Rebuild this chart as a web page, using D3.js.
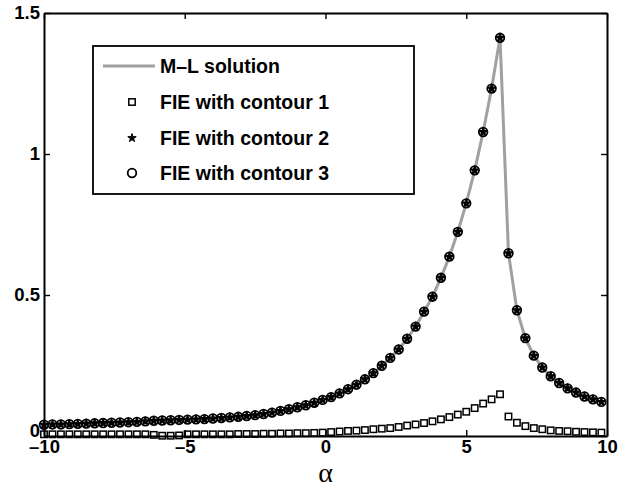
<!DOCTYPE html>
<html>
<head>
<meta charset="utf-8">
<script src="https://cdn.jsdelivr.net/npm/d3@7"></script>
<style>
  body { margin: 0; background: #fff; }
  text { font-family: "Liberation Sans", Arial, Helvetica, sans-serif; }
</style>
</head>
<body>
<script>
// alpha grid (step 0.3)
const alpha = [-10, -9.7, -9.4, -9.1, -8.8, -8.5, -8.2, -7.9, -7.6, -7.3, -7, -6.7, -6.4,
  -6.1, -5.8, -5.5, -5.2, -4.9, -4.6, -4.3, -4, -3.7, -3.4, -3.1, -2.8, -2.5, -2.2,
  -1.9, -1.6, -1.3, -1, -0.7, -0.4, -0.1, 0.2, 0.5, 0.8, 1.1, 1.4, 1.7, 2, 2.3, 2.6,
  2.9, 3.2, 3.5, 3.8, 4.1, 4.4, 4.7, 5, 5.3, 5.6, 5.9, 6.2, 6.5, 6.8, 7.1, 7.4, 7.7,
  8, 8.3, 8.6, 8.9, 9.2, 9.5, 9.8];

const mlSolution = [0.040, 0.041, 0.041, 0.042, 0.043, 0.044, 0.045, 0.046, 0.047, 0.048, 0.049, 0.050, 0.052,
  0.054, 0.055, 0.056, 0.057, 0.058, 0.059, 0.060, 0.062, 0.064, 0.066, 0.068, 0.071, 0.074, 0.078,
  0.083, 0.089, 0.095, 0.102, 0.109, 0.118, 0.128, 0.138, 0.151, 0.166, 0.182, 0.201, 0.223, 0.249, 0.277, 0.307,
  0.345, 0.388, 0.441, 0.494, 0.561, 0.636, 0.724, 0.825, 0.942, 1.078, 1.232, 1.412, 0.648, 0.446, 0.347, 0.285, 0.243,
  0.212, 0.188, 0.169, 0.154, 0.140, 0.130, 0.121];

const contour1 = [0.006, 0.006, 0.006, 0.006, 0.006, 0.006, 0.006, 0.006, 0.006, 0.006, 0.006, 0.006, 0.006,
  0.004, 0.001, 0.001, 0.002, 0.006, 0.006, 0.006, 0.006, 0.006, 0.006, 0.007, 0.007, 0.007, 0.008,
  0.008, 0.009, 0.009, 0.010, 0.010, 0.011, 0.012, 0.014, 0.016, 0.018, 0.019, 0.021, 0.024, 0.026, 0.028, 0.032,
  0.037, 0.041, 0.046, 0.052, 0.059, 0.067, 0.076, 0.086, 0.099, 0.115, 0.130, 0.148, 0.069, 0.047, 0.035, 0.028, 0.024,
  0.020, 0.018, 0.017, 0.015, 0.014, 0.013, 0.012];

// contours 2 and 3 sit on the M-L solution
const contour2 = mlSolution;
const contour3 = mlSolution;

const legendLabels = ["M\u2013L solution", "FIE with contour 1", "FIE with contour 2", "FIE with contour 3"];
const xTicks = [-10, -5, 0, 5, 10];
const yTicks = [0, 0.5, 1, 1.5];

let width = 636,
    height = 490;

let margin = { top: 13, right: 29, bottom: 54, left: 44 };
let w = width - margin.left - margin.right,
    h = height - margin.top - margin.bottom;

let svg = d3.select("body").append("svg")
    .attr("width", width)
    .attr("height", height)
    .append("g")
    .attr("transform", "translate(" + margin.left + "," + margin.top + ")");

let x = d3.scaleLinear().domain([-10, 10]).range([0, w]);
let y = d3.scaleLinear().domain([0, 1.5]).range([h, 0]);

let fmt = d => (d < 0 ? "\u2013" + Math.abs(d) : "" + d);

// axes, ticks pointing inward
let styleAxis = g => {
  g.select(".domain").attr("stroke", "#000").attr("stroke-width", 2);
  g.selectAll(".tick line").attr("stroke", "#000").attr("stroke-width", 1.4);
  g.selectAll("text").attr("fill", "#000")
    .style("font-size", "18.5px").style("font-weight", "bold")
    .style("font-family", "'Liberation Sans', Arial, sans-serif");
};

svg.append("g")
    .attr("transform", "translate(0," + h + ")")
    .call(d3.axisBottom(x).tickValues(xTicks).tickFormat(fmt).tickSizeInner(-6).tickSizeOuter(0).tickPadding(4))
    .call(styleAxis);

svg.append("g")
    .call(d3.axisTop(x).tickValues(xTicks).tickFormat("").tickSizeInner(-6).tickSizeOuter(0))
    .call(styleAxis);

svg.append("g")
    .call(d3.axisLeft(y).tickValues(yTicks).tickFormat(d => d).tickSizeInner(-6).tickSizeOuter(0).tickPadding(4))
    .call(styleAxis)
    .selectAll(".tick text")
    .attr("dy", d => (d === 0 ? "0.05em" : "0.32em"));

svg.append("g")
    .attr("transform", "translate(" + w + ",0)")
    .call(d3.axisRight(y).tickValues(yTicks).tickFormat("").tickSizeInner(-6).tickSizeOuter(0))
    .call(styleAxis);

// M-L solution line
let pts = alpha.map((a, i) => [a, mlSolution[i]]);
svg.append("path")
    .datum(pts)
    .attr("fill", "none")
    .attr("stroke", "#a0a0a0")
    .attr("stroke-width", 3)
    .attr("d", d3.line().x(d => x(d[0])).y(d => y(d[1])));

// contour 1: squares
svg.selectAll(".sq")
    .data(alpha.map((a, i) => [a, contour1[i]]))
    .enter().append("rect")
    .attr("x", d => x(d[0]) - 3.2)
    .attr("y", d => y(d[1]) - 3.2)
    .attr("width", 6.4)
    .attr("height", 6.4)
    .attr("fill", "none")
    .attr("stroke", "#000")
    .attr("stroke-width", 1.5);

// contour 2: stars
let star = d3.symbol().type(d3.symbolStar).size(22);
svg.selectAll(".st")
    .data(alpha.map((a, i) => [a, contour2[i]]))
    .enter().append("path")
    .attr("transform", d => "translate(" + x(d[0]) + "," + y(d[1]) + ")")
    .attr("d", star)
    .attr("fill", "#000")
    .attr("stroke", "#000")
    .attr("stroke-width", 1.2)
    .attr("stroke-linejoin", "round");

// contour 3: circles
svg.selectAll(".ci")
    .data(alpha.map((a, i) => [a, contour3[i]]))
    .enter().append("circle")
    .attr("cx", d => x(d[0]))
    .attr("cy", d => y(d[1]))
    .attr("r", 4.3)
    .attr("fill", "none")
    .attr("stroke", "#000")
    .attr("stroke-width", 1.8);

// x label
svg.append("text")
    .attr("x", w / 2)
    .attr("y", h + 46)
    .style("text-anchor", "middle")
    .style("font-family", "'Liberation Serif', 'Times New Roman', serif")
    .style("font-size", "28px")
    .text("\u03b1");

// legend
let lg = svg.append("g").attr("transform", "translate(" + (93 - margin.left) + "," + (46 - margin.top) + ")");
lg.append("rect")
    .attr("width", 321).attr("height", 148)
    .attr("fill", "#fff").attr("stroke", "#000").attr("stroke-width", 1.8);

let rowY = [20, 56, 92, 127];
lg.append("line")
    .attr("x1", 10).attr("x2", 62).attr("y1", rowY[0]).attr("y2", rowY[0])
    .attr("stroke", "#a0a0a0").attr("stroke-width", 3);
lg.append("rect")
    .attr("x", 35.8).attr("y", rowY[1] - 3.2).attr("width", 6.4).attr("height", 6.4)
    .attr("fill", "none").attr("stroke", "#000").attr("stroke-width", 1.5);
lg.append("path")
    .attr("transform", "translate(39," + rowY[2] + ")")
    .attr("d", star).attr("fill", "#000")
    .attr("stroke", "#000").attr("stroke-width", 1).attr("stroke-linejoin", "round");
lg.append("circle")
    .attr("cx", 39).attr("cy", rowY[3]).attr("r", 4.3)
    .attr("fill", "none").attr("stroke", "#000").attr("stroke-width", 1.8);

lg.selectAll(".lab")
    .data(legendLabels)
    .enter().append("text")
    .attr("x", 67)
    .attr("y", (d, i) => rowY[i])
    .attr("dy", "0.36em")
    .style("font-size", "19.5px")
    .style("font-weight", "bold")
    .text(d => d);
</script>
</body>
</html>
